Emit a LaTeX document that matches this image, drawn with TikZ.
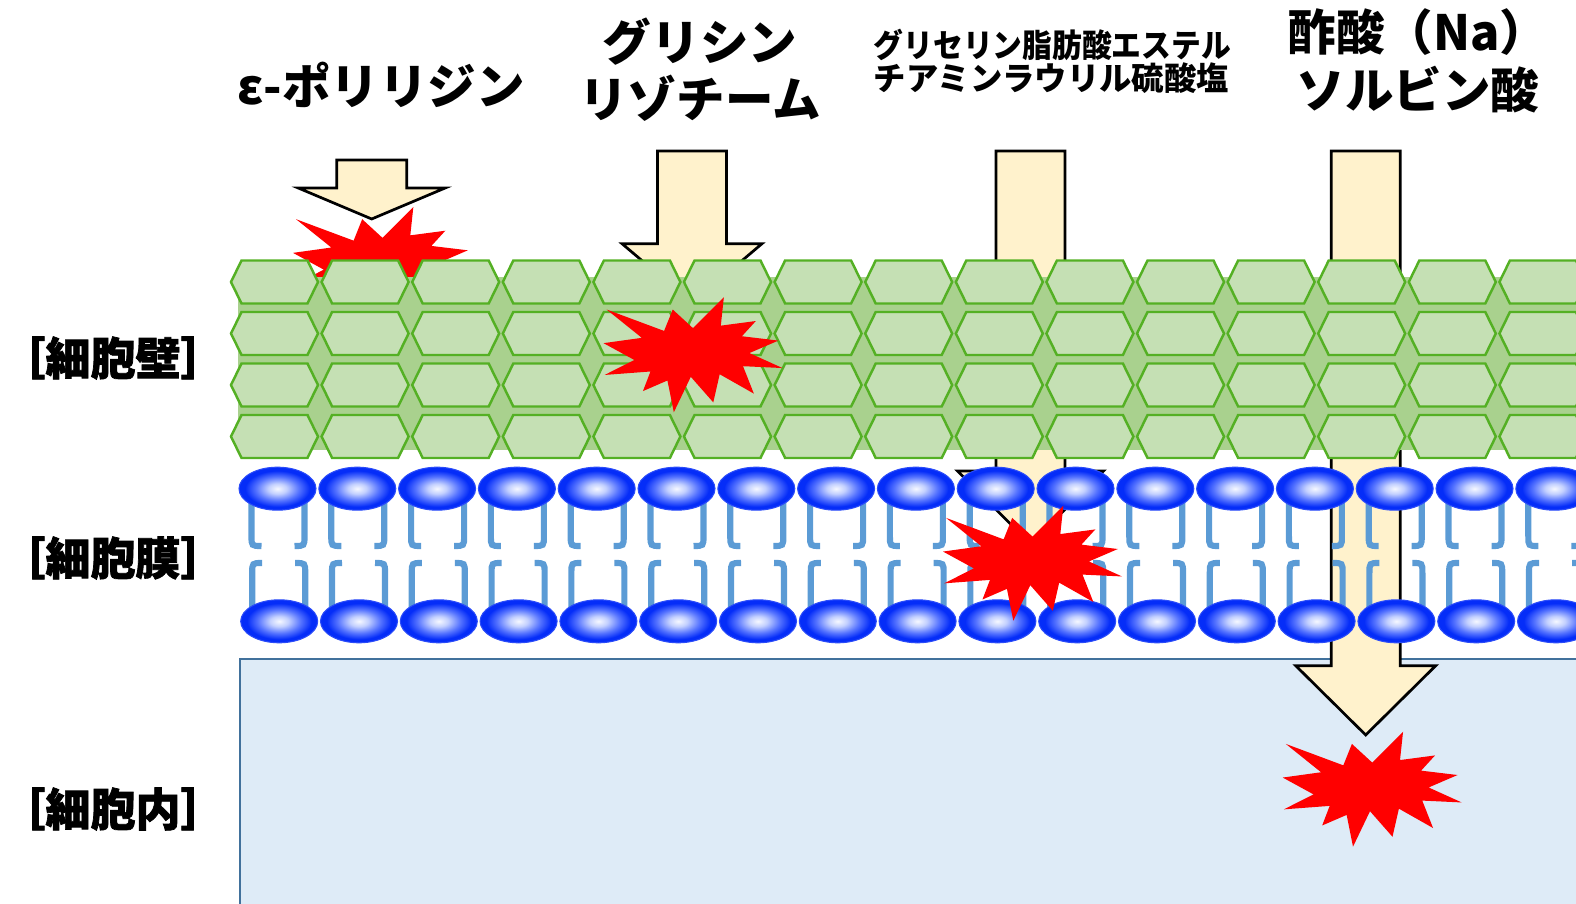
\documentclass[tikz,border=0pt]{standalone}
\usepackage{fontspec}
\usepackage{xcolor}
\usepackage{tikz}
\usetikzlibrary{calc}

\setmainfont{Noto Sans CJK JP}
\newfontfamily\sidefont{Noto Sans CJK JP}[BoldFeatures={FakeBold=1.6}]

\definecolor{cellfill}{RGB}{197,224,180}
\definecolor{wallfill}{RGB}{169,209,142}
\definecolor{cellline}{RGB}{84,176,36}
\definecolor{tailblue}{RGB}{91,155,213}
\definecolor{headin}{RGB}{246,248,255}
\definecolor{headlight}{RGB}{195,208,255}
\definecolor{headmid}{RGB}{85,115,255}
\definecolor{headout}{RGB}{5,45,248}
\definecolor{insidefill}{RGB}{222,235,247}
\definecolor{insideline}{RGB}{65,113,156}
\definecolor{arrowfill}{RGB}{255,242,204}

\pgfdeclareradialshading{headshade}{\pgfpoint{0bp}{0bp}}{%
  color(0bp)=(headin); color(6bp)=(headlight); color(14bp)=(headmid);
  color(21bp)=(headout); color(25bp)=(headout); color(50bp)=(headout)}

% downward block arrow: x, top, head base, tip, half shaft, half head
\newcommand{\blockarrow}[6]{%
  \draw[arrowbody] (#1-#5,#2) -- (#1+#5,#2) -- (#1+#5,#3) -- (#1+#6,#3)
    -- (#1,#4) -- (#1-#6,#3) -- (#1-#5,#3) -- cycle;}

% red explosion, top left corner of its box at (#1,#2)
\newcommand{\explosion}[2]{%
  \fill[red, shift={(#1,#2)}, xscale=179/216, yscale=115/216]
    (108,58) -- (145.22,0) -- (141.55,53.25) -- (183.8,44.57) -- (167.02,73.15)
    -- (210.97,81.37) -- (176.07,104.75) -- (216,132.9) -- (168.37,129.42)
    -- (181.45,180.95) -- (140.2,144.57) -- (132.47,197.37) -- (105.32,149.35)
    -- (84.85,216) -- (77.15,156.27) -- (47.62,176.17) -- (56.67,139.37)
    -- (1.35,145.87) -- (37.22,117.75) -- (0,86.15) -- (46.27,76.17)
    -- (3.7,22.95) -- (73.12,63.2) -- (83.52,22.95) -- cycle;}

\tikzset{
  arrowbody/.style={fill=arrowfill, draw=black, line width=0.77pt},
  cellhex/.style={fill=cellfill, draw=cellline, line width=0.7pt},
  tail/.style={draw=tailblue, line width=1.75pt},
  head/.style={shading=headshade, draw=headout!85!white, line width=0.3pt},
  biglabel/.style={font=\fontsize{13.8}{16.3}\selectfont\bfseries, align=center, inner sep=0pt},
  smalllabel/.style={font=\fontsize{9.2}{9.4}\selectfont\bfseries, align=left, inner sep=0pt},
  sidelabel/.style={font=\sidefont\fontsize{12.8}{15}\selectfont\bfseries, inner sep=0pt},
}

\begin{document}
\begin{tikzpicture}[x=0.01cm, y=-0.01cm]
  \useasboundingbox (0,0) rectangle (1576,904);
  \clip (0,0) rectangle (1576,904);

  % inside of the cell
  \draw[fill=insidefill, draw=insideline, line width=0.6pt] (240,659) rectangle (1600,930);

  % arrows
  \blockarrow{371.7}{160}{188}{219}{35}{73.5}
  \blockarrow{692}{151}{243.7}{303}{34.5}{70}
  \blockarrow{1030.5}{151}{471}{544}{34.5}{73}
  \blockarrow{1365.7}{151}{665.7}{735}{34.5}{70}

  \explosion{293}{207}

  % cell wall
  \fill[wallfill] (238,277) rectangle (1600,450);
  \foreach \c in {0,...,14}
    \foreach \r in {0,...,3} {
      \pgfmathsetmacro\hx{274.5+90.6*\c}
      \pgfmathsetmacro\hy{282+51.5*\r}
      \draw[cellhex] (\hx-43.5,\hy) -- (\hx-33,\hy-21.5) -- (\hx+33,\hy-21.5)
        -- (\hx+43.5,\hy) -- (\hx+33,\hy+21.5) -- (\hx-33,\hy+21.5) -- cycle;
    }

  % cell membrane
  \foreach \j in {0,...,16} {
    \pgfmathsetmacro\ux{277.5+79.8*\j}
    \pgfmathsetmacro\lx{279.2+79.8*\j}
    \draw[tail] (\ux-26,500) -- (\ux-26,536) .. controls (\ux-26,546) .. (\ux-16,546);
    \draw[tail] (\ux+27,500) -- (\ux+27,536) .. controls (\ux+27,546) .. (\ux+17,546);
    \draw[tail] (\lx-27,610) -- (\lx-27,573) .. controls (\lx-27,563) .. (\lx-17,563);
    \draw[tail] (\lx+26,610) -- (\lx+26,573) .. controls (\lx+26,563) .. (\lx+16,563);
  }
  \foreach \j in {0,...,16} {
    \pgfmathsetmacro\ux{277.5+79.8*\j}
    \pgfmathsetmacro\lx{279.2+79.8*\j}
    \path[head] (\ux,488.7) ellipse [x radius=38.5, y radius=21.5];
    \path[head] (\lx,621.3) ellipse [x radius=38.5, y radius=21.5];
  }

  \explosion{603.5}{297.3}
  \explosion{943}{505.7}
  \explosion{1282.7}{731.7}

  % labels
  \node[biglabel] (polylysine) at (381,85) {ε-ポリリジン};
  \node[biglabel] (glycine) at (700,70) {グリシン\\リゾチーム};
  \node[smalllabel, anchor=west] (ester) at (873,61)
    {\scalebox{0.92}[1]{グリセリン脂肪酸エステル}\\チアミンラウリル硫酸塩};
  \node[biglabel] (acetic) at (1418,61) {酢酸（Na）\\ソルビン酸};

  \node[sidelabel] (wall) at (113,358) {［細胞壁］};
  \node[sidelabel] (membrane) at (113,558) {［細胞膜］};
  \node[sidelabel] (inside) at (113,809) {［細胞内］};
\end{tikzpicture}
\end{document}
